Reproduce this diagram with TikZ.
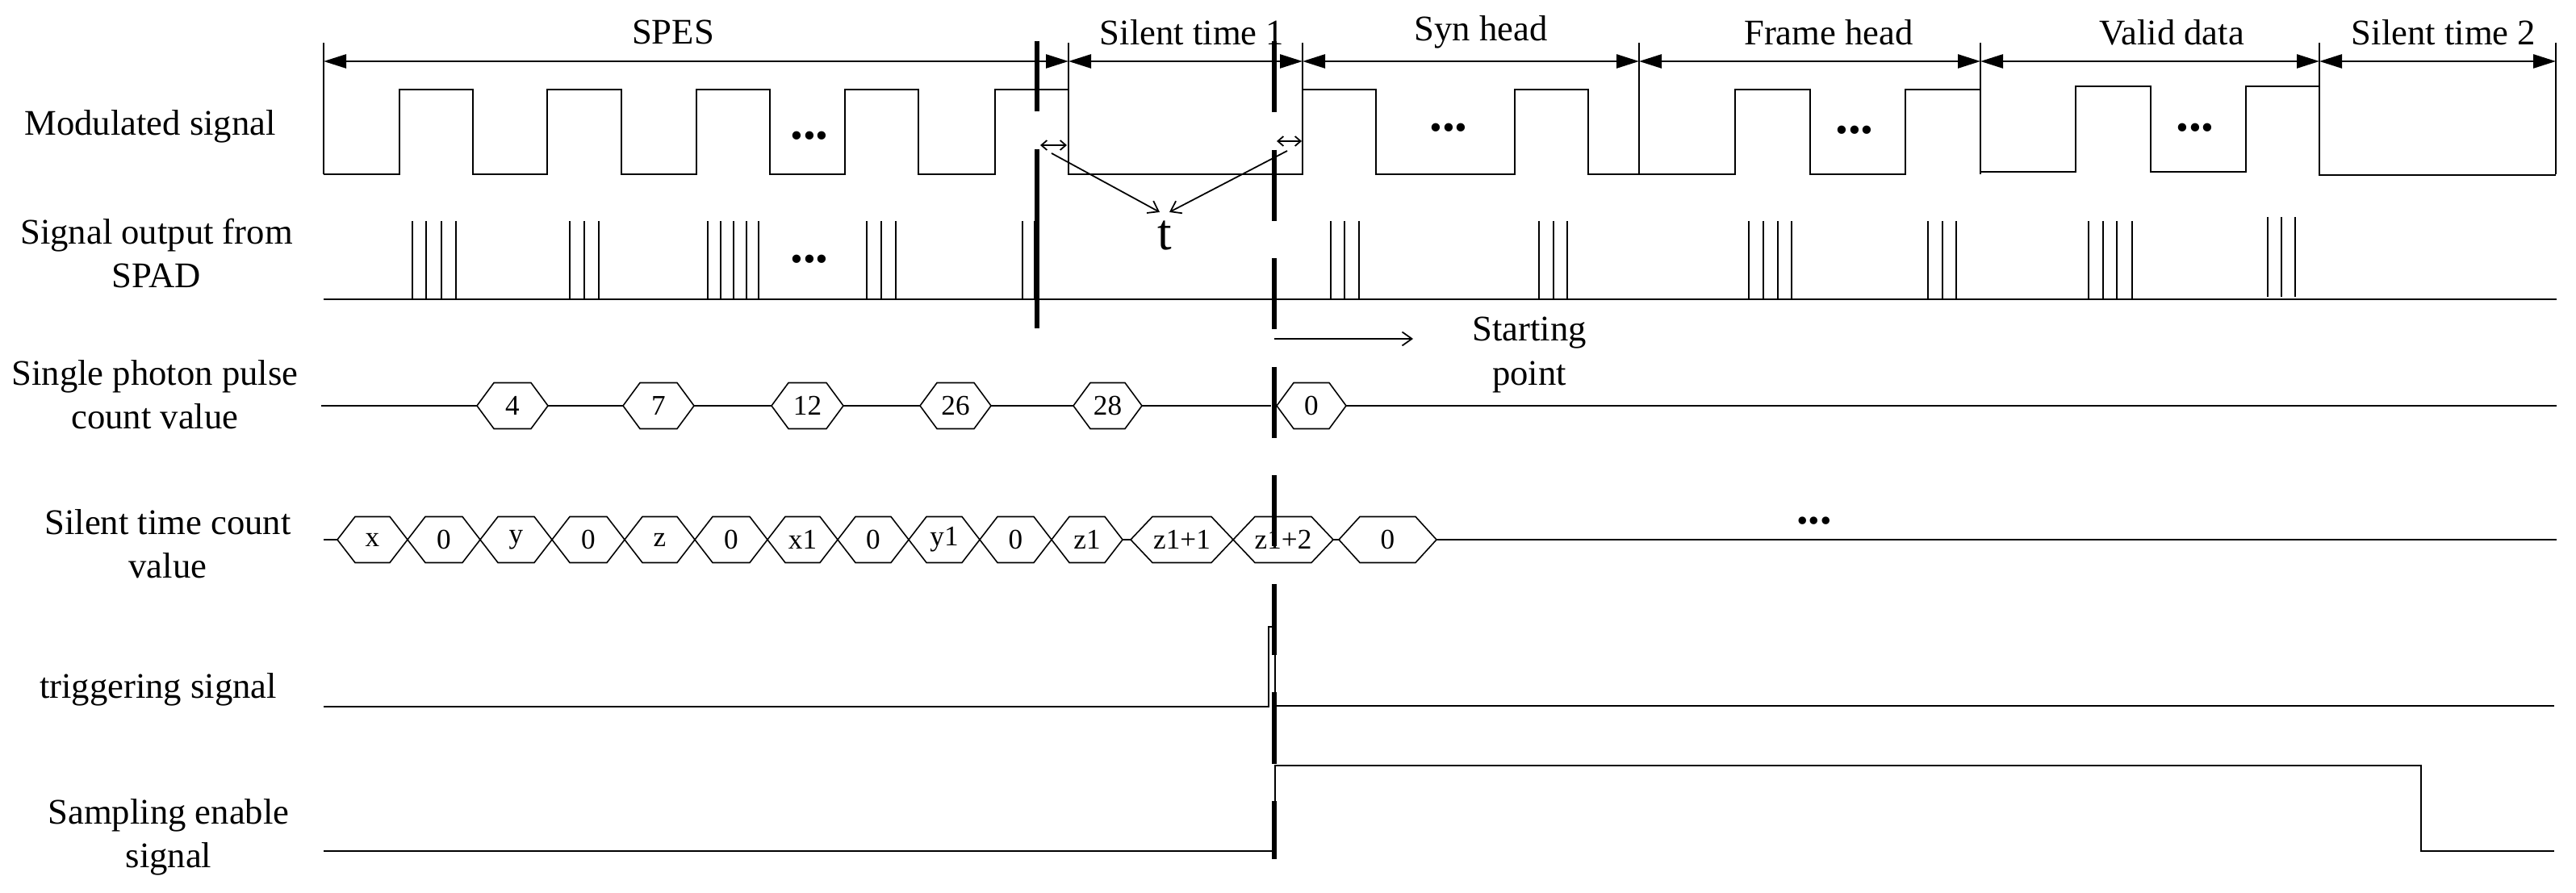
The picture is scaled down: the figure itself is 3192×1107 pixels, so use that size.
\documentclass[tikz,border=0pt]{standalone}
\usepackage{fontspec}
\setmainfont{Liberation Serif}
\usetikzlibrary{arrows.meta}
\newcommand{\hexval}[6]{%
  \draw[hexline] (#2,#4) -- (#2+#5,#4-28.5) -- (#3-#5,#4-28.5) -- (#3,#4) -- (#3-#5,#4+28.5) -- (#2+#5,#4+28.5) -- cycle;
  \node[val] (#1) at ({(#2+#3)/2},#4) {#6};}
\begin{document}
\begin{tikzpicture}[x=0.01cm, y=-0.01cm,
  sig/.style={line width=0.8pt},
  extline/.style={line width=0.5pt},
  pulse/.style={line width=0.55pt},
  hexline/.style={line width=0.45pt},
  thickdash/.style={line width=1.6pt},
  dim/.style={line width=0.75pt, {Triangle[length=0.28cm,width=0.17cm]}-{Triangle[length=0.28cm,width=0.17cm]}},
  barb/.style={line width=0.5pt, -{Straight Barb[length=0.12cm,width=0.17cm]}},
  small/.style={line width=0.5pt, {Straight Barb[length=0.07cm,width=0.12cm]}-{Straight Barb[length=0.07cm,width=0.12cm]}},
  lbl/.style={font=\fontsize{12.7}{15.5}\selectfont, align=center, inner sep=0pt},
  val/.style={font=\fontsize{10}{12}\selectfont, inner sep=0pt},
  dotsA/.style={font=\fontsize{18}{18}\selectfont\bfseries, inner sep=0pt},
  dotsB/.style={font=\fontsize{16.5}{16.5}\selectfont\bfseries, inner sep=0pt}]
\useasboundingbox (0,0) rectangle (3192,1107);

% ---------- row labels ----------
\node[lbl] (Lmod) at (186,157) {Modulated signal};
\node[lbl] (Lspad) at (194,314) {Signal output from\\SPAD};
\node[lbl] (Lcnt) at (192,489) {Single photon pulse\\count value};
\node[lbl] (Lsil) at (208,674) {Silent time count\\value};
\node[lbl] (Ltrg) at (196,855) {triggering signal};
\node[lbl] (Lsmp) at (209,1038) {Sampling enable\\signal};

% ---------- segment boundaries ----------
\foreach \n/\x in {b0/401,b1/1324,b2/1614,b3/2031,b4/2454,b5/2874,b6/3167}{
  \coordinate (\n) at (\x,76);
  \coordinate (\n t) at (\x,53);
  \coordinate (\n b) at (\x,216);
  \draw[extline] (\n t) -- (\n b);
}
\draw[dim] (b0) -- (b1);
\draw[dim] (b1) -- (b2);
\draw[dim] (b2) -- (b3);
\draw[dim] (b3) -- (b4);
\draw[dim] (b4) -- (b5);
\draw[dim] (b5) -- (b6);

\node[lbl] (Tspes) at (834,40) {SPES};
\node[lbl] (Tsil1) at (1477,40) {Silent time 1};
\node[lbl] (Tsyn) at (1835,40) {Syn head};
\node[lbl] (Tfrm) at (2266,40) {Frame head};
\node[lbl] (Tval) at (2691,40) {Valid data};
\node[lbl] (Tsil2) at (3028,40) {Silent time 2};

% ---------- modulated signal ----------
\draw[sig] (401,216) -- (495,216) -- (495,111) -- (586,111) -- (586,216) -- (678,216) -- (678,111) -- (770,111) -- (770,216)
  -- (863,216) -- (863,111) -- (954,111) -- (954,216) -- (1047,216) -- (1047,111) -- (1138,111) -- (1138,216)
  -- (1233,216) -- (1233,111) -- (1324,111) -- (1324,216) -- (1614,216) -- (1614,111) -- (1705,111) -- (1705,216)
  -- (1877,216) -- (1877,111) -- (1968,111) -- (1968,216) -- (2150,216) -- (2150,111) -- (2243,111) -- (2243,216)
  -- (2361,216) -- (2361,111) -- (2454,111) -- (2454,216);
\draw[sig] (2454,213) -- (2572,213) -- (2572,107) -- (2665,107) -- (2665,213) -- (2783,213) -- (2783,107)
  -- (2874,107) -- (2874,217) -- (3167,217);
\node[dotsA] (d1) at (1003,168) {...};
\node[dotsA] (d2) at (1795,158) {...};
\node[dotsA] (d3) at (2298,161) {...};
\node[dotsA] (d4) at (2720,158) {...};

% ---------- t annotation ----------
\coordinate (g1a) at (1289,180);
\coordinate (g1b) at (1322,180);
\coordinate (g2a) at (1582,175);
\coordinate (g2b) at (1613,175);
\draw[small] (g1a) -- (g1b);
\draw[small] (g2a) -- (g2b);
\node[font=\fontsize{18}{18}\selectfont, inner sep=0pt] (tlab) at (1443,292) {t};
\coordinate (t1) at (1437,263);
\coordinate (t2) at (1449,263);
\coordinate (s1) at (1303,190);
\coordinate (s2) at (1595,187);
\draw[barb] (s1) -- (t1);
\draw[barb] (s2) -- (t2);

% ---------- SPAD output ----------
\draw[sig] (401,371) -- (3168,371);
\foreach \x in {511,528,547,565, 706,724,742, 877,893,909,925,940, 1074,1092,1110, 1267,1282,
                1649,1666,1684, 1907,1925,1942, 2167,2185,2203,2220, 2389,2407,2424, 2588,2606,2623,2642}
  \draw[pulse] (\x,274) -- (\x,371);
\foreach \x in {2810,2827,2844}
  \draw[pulse] (\x,269) -- (\x,368);
\node[dotsA] (d5) at (1003,321) {...};

% ---------- single photon pulse count ----------
\draw[sig] (398,503) -- (591,503);
\hexval{c1}{591}{679}{503}{21}{4}
\draw[sig] (679,503) -- (772,503);
\hexval{c2}{772}{860}{503}{21}{7}
\draw[sig] (860,503) -- (956,503);
\hexval{c3}{956}{1045}{503}{21}{12}
\draw[sig] (1045,503) -- (1140,503);
\hexval{c4}{1140}{1228}{503}{21}{26}
\draw[sig] (1228,503) -- (1330,503);
\hexval{c5}{1330}{1415}{503}{21}{28}
\draw[sig] (1415,503) -- (1575,503);
\hexval{c6}{1582}{1668}{503}{21}{0}
\draw[sig] (1668,503) -- (3168,503);

% starting point
\coordinate (sp0) at (1579,420);
\coordinate (sp1) at (1751,420);
\draw[barb] (sp0) -- (sp1);
\node[lbl] (Tstart) at (1895,440) {Starting\\point};

% ---------- silent time count ----------
\draw[sig] (401,669) -- (418,669);
\hexval{k1}{418}{505}{669}{22}{x}
\hexval{k2}{505}{595}{669}{22}{0}
\hexval{k3}{595}{684}{669}{22}{y}
\hexval{k4}{684}{774}{669}{22}{0}
\hexval{k5}{774}{861}{669}{22}{z}
\hexval{k6}{861}{951}{669}{22}{0}
\hexval{k7}{951}{1038}{669}{22}{x1}
\hexval{k8}{1038}{1126}{669}{22}{0}
\hexval{k9}{1126}{1214}{669}{22}{y1}
\hexval{k10}{1214}{1303}{669}{22}{0}
\hexval{k11}{1303}{1391}{669}{22}{z1}
\draw[sig] (1391,669) -- (1401,669);
\hexval{k12}{1401}{1528}{669}{27}{z1+1}
\hexval{k13}{1528}{1652}{669}{27}{z1+2}
\draw[sig] (1652,669) -- (1659,669);
\hexval{k14}{1659}{1780}{669}{26}{0}
\draw[sig] (1780,669) -- (3168,669);
\node[dotsB] (d6) at (2248,646) {...};

% ---------- triggering signal ----------
\draw[sig] (401,876) -- (1572,876) -- (1572,777) -- (1580,777) -- (1580,875) -- (3165,875);

% ---------- sampling enable ----------
\draw[sig] (401,1055) -- (1580,1055) -- (1580,949) -- (3000,949) -- (3000,1055) -- (3165,1055);

% ---------- thick dashed markers ----------
\coordinate (m1a) at (1285,51);
\coordinate (m1b) at (1285,138);
\coordinate (m1c) at (1285,185);
\coordinate (m1d) at (1285,407);
\draw[thickdash] (m1a) -- (m1b);
\draw[thickdash] (m1c) -- (m1d);
\coordinate (m2a) at (1579,51);
\coordinate (m2b) at (1579,1065);
\draw[thickdash, dash pattern=on 0.88cm off 0.465cm] (m2a) -- (m2b);
\end{tikzpicture}
\end{document}
